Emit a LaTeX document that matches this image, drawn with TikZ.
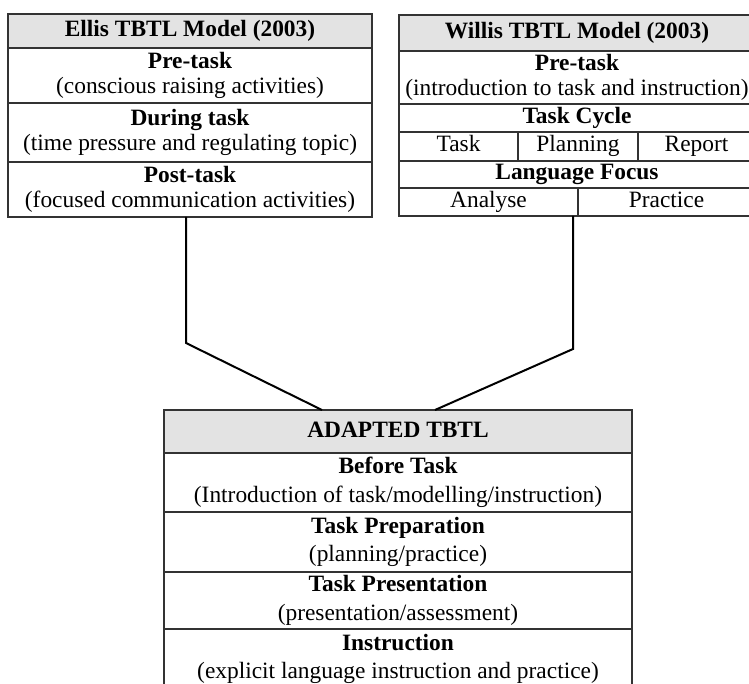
\documentclass[tikz,border=0pt]{standalone}
\usepackage{fontspec}
\setmainfont{Liberation Serif}
\usetikzlibrary{positioning}

\tikzset{
  cell/.style={draw=black!80, line width=1.1pt, inner sep=0pt, outer sep=0pt,
    align=center, font=\fontsize{23.4}{25}\selectfont},
  one/.style={text height=16pt, text depth=5pt},
  head/.style={cell, one, fill=black!11, font=\fontsize{23.4}{25}\selectfont\bfseries},
  wide/.style={cell, font=\fontsize{23.4}{28.5}\selectfont},
  link/.style={line width=2pt},
}

\begin{document}
\begin{tikzpicture}[x=1pt,y=-1pt]
\useasboundingbox (0,0) rectangle (749,684);

% Ellis
\node[head, minimum width=364pt, minimum height=34pt, anchor=north west] (ellis) at (8,14) {Ellis TBTL Model (2003)};
\node[cell, minimum width=364pt, minimum height=55pt, below=0pt of ellis] (ellis1) {\textbf{Pre-task}\\(conscious raising activities)};
\node[cell, minimum width=364pt, minimum height=59pt, below=0pt of ellis1] (ellis2) {\textbf{During task}\\(time pressure and regulating topic)};
\node[cell, minimum width=364pt, minimum height=55pt, below=0pt of ellis2] (ellis3) {\textbf{Post-task}\\(focused communication activities)};

% Willis
\node[head, minimum width=356pt, minimum height=36pt, anchor=north west] (willis) at (399,15) {Willis TBTL Model (2003)};
\node[cell, minimum width=356pt, minimum height=53pt, below=0pt of willis] (willis1) {\textbf{Pre-task}\\(introduction to task and instruction)};
\node[cell, one, minimum width=356pt, minimum height=28pt, below=0pt of willis1] (willis2) {\textbf{Task Cycle}};
\node[cell, one, minimum width=119pt, minimum height=29pt, below=0pt of willis2.south west, anchor=north west] (task) {Task};
\node[cell, one, minimum width=120pt, minimum height=29pt, right=0pt of task] (planning) {Planning};
\node[cell, one, minimum width=117pt, minimum height=29pt, right=0pt of planning] (report) {Report};
\node[cell, one, minimum width=356pt, minimum height=27pt, below=0pt of task.south west, anchor=north west] (willis3) {\textbf{Language Focus}};
\node[cell, one, minimum width=179pt, minimum height=28pt, below=0pt of willis3.south west, anchor=north west] (analyse) {Analyse};
\node[cell, one, minimum width=177pt, minimum height=28pt, right=0pt of analyse] (practice) {Practice};

% Adapted
\node[head, minimum width=468pt, minimum height=43pt, anchor=north west] (adapt) at (164,410) {ADAPTED TBTL};
\node[wide, minimum width=468pt, minimum height=59pt, below=0pt of adapt] (adapt1) {\textbf{Before Task}\\(Introduction of task/modelling/instruction)};
\node[wide, minimum width=468pt, minimum height=60pt, below=0pt of adapt1] (adapt2) {\textbf{Task Preparation}\\(planning/practice)};
\node[wide, minimum width=468pt, minimum height=57pt, below=0pt of adapt2] (adapt3) {\textbf{Task Presentation}\\(presentation/assessment)};
\node[wide, minimum width=468pt, minimum height=60pt, below=0pt of adapt3] (adapt4) {\textbf{Instruction}\\(explicit language instruction and practice)};

% links
\coordinate (lbend) at (186,343);
\coordinate (lfoot) at (322,410);
\coordinate (rbend) at (573,349);
\coordinate (rfoot) at (435,410);
\draw[link] (ellis3.south -| lbend) -- (lbend) -- (lfoot);
\draw[link] (analyse.south -| rbend) -- (rbend) -- (rfoot);

\end{tikzpicture}
\end{document}
